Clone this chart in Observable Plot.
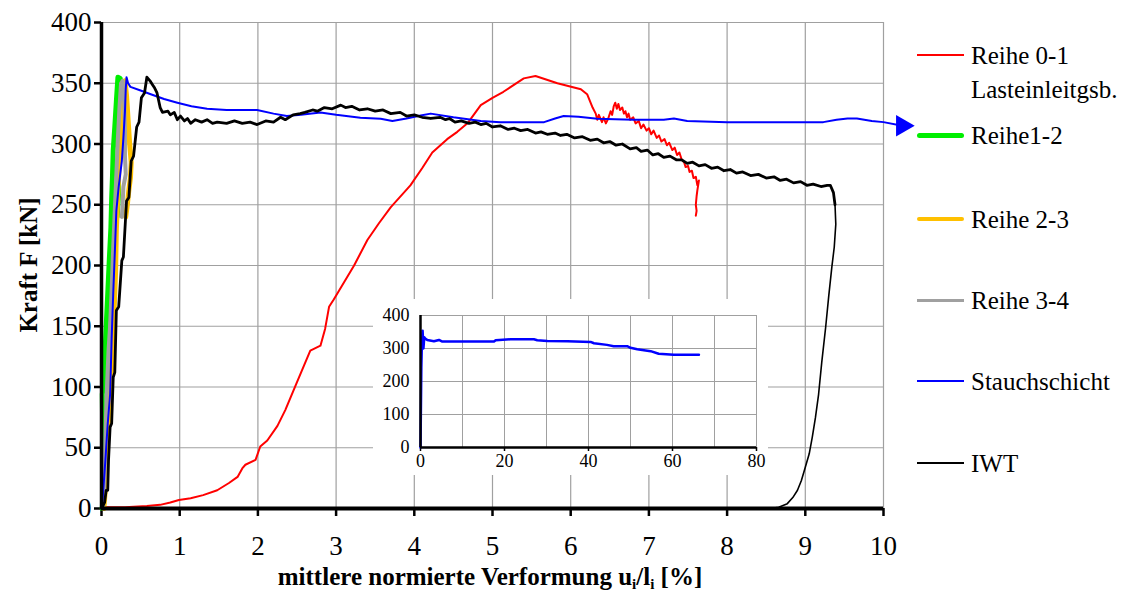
<!DOCTYPE html>
<html><head><meta charset="utf-8">
<script src="https://cdn.jsdelivr.net/npm/d3@7"></script>
<script src="https://cdn.jsdelivr.net/npm/@observablehq/plot@0.6"></script>
<style>
body{margin:0;background:#fff;}
#wrap{position:relative;width:1128px;height:596px;font-family:"Liberation Serif","Times New Roman",serif;color:#000;overflow:hidden;}
.abs{position:absolute;font-family:"Liberation Serif","Times New Roman",serif;}
.leg{position:absolute;left:971px;font-family:"Liberation Serif","Times New Roman",serif;font-size:25px;line-height:1;transform:translateY(-50%);white-space:nowrap;}
.sw{position:absolute;left:917px;width:47px;}
sub{font-size:60%;vertical-align:-0.25em;}
</style></head><body><div id="wrap"></div>
<script>
// ---- data ----
const xTicks = [0,1,2,3,4,5,6,7,8,9,10];
const yTicks = [0,50,100,150,200,250,300,350,400];
const insetXTicks = [0,20,40,60,80];
const insetXGrid = [0,10,20,30,40,50,60,70,80];
const insetYTicks = [0,100,200,300,400];
const seriesNames = ["Reihe 0-1", "Reihe1-2", "Reihe 2-3", "Reihe 3-4", "Stauchschicht", "IWT"];

const reihe01 = [[0.00,1],[0.30,1],[0.58,2],[0.75,3],[0.88,5],[0.99,7],[1.14,8.5],[1.30,11],[1.48,15],[1.63,21],[1.74,26],[1.80,33],[1.84,36],[1.97,40],[2.03,51],[2.12,56],[2.25,68],[2.35,81],[2.50,104],[2.67,130],[2.80,134],[2.86,148],[2.91,166],[2.97,172],[3.10,186],[3.23,200],[3.40,221],[3.55,235],[3.70,248],[3.95,266],[4.10,280],[4.23,293],[4.42,304],[4.55,310],[4.68,317],[4.85,332],[5.00,338],[5.14,343],[5.40,354],[5.55,356],[5.83,350],[6.13,345],[6.21,341],[6.28,330],[6.32,325],[6.34,320],[6.36,324],[6.40,318],[6.42,322],[6.45,317],[6.48,321],[6.51,327],[6.53,324],[6.55,331],[6.57,334],[6.59,329],[6.61,333],[6.63,328],[6.66,330],[6.68,325],[6.70,327],[6.72,322],[6.74,325],[6.76,320],[6.80,322],[6.83,317],[6.87,319],[6.90,313],[6.93,316],[6.97,311],[7.00,313],[7.03,308],[7.06,311],[7.10,305],[7.13,307],[7.16,302],[7.20,304],[7.23,299],[7.26,301],[7.30,295],[7.33,297],[7.36,291],[7.39,293],[7.42,287],[7.45,285],[7.47,281],[7.50,282],[7.52,277],[7.55,278],[7.57,272],[7.60,273],[7.62,266],[7.64,270],[7.62,262],[7.61,257],[7.60,250],[7.61,245],[7.60,241]];

const reihe12 = [[0.01,0],[0.03,20],[0.02,40],[0.01,94],[0.03,105],[0.04,122],[0.06,150],[0.08,177],[0.10,205],[0.12,231],[0.13,255],[0.14,273],[0.15,295],[0.17,314],[0.19,335],[0.21,355],[0.24,354],[0.23,330],[0.22,300],[0.21,275],[0.22,262],[0.21,250],[0.20,240]];

const reihe23 = [[0.03,0],[0.06,25],[0.07,50],[0.10,80],[0.12,100],[0.14,130],[0.16,160],[0.18,195],[0.19,230],[0.21,260],[0.23,290],[0.26,320],[0.28,345],[0.30,352],[0.32,340],[0.34,320],[0.36,300],[0.38,285],[0.37,272],[0.35,262],[0.33,250],[0.31,240]];

const reihe34 = [[0.02,0],[0.04,30],[0.05,60],[0.07,100],[0.09,130],[0.11,150],[0.13,180],[0.15,215],[0.17,245],[0.19,275],[0.21,305],[0.23,330],[0.25,350],[0.27,352],[0.29,335],[0.30,310],[0.30,290],[0.31,275],[0.28,265],[0.27,250],[0.26,240]];

const stauch = [[0,0],[0.01,4],[0.05,40],[0.08,70],[0.11,94],[0.13,140],[0.15,177],[0.17,210],[0.19,245],[0.22,265],[0.26,286],[0.28,305],[0.30,327],[0.31,345],[0.32,355],[0.34,350],[0.37,347],[0.50,344],[0.63,341],[0.80,337],[0.97,334],[1.15,331],[1.35,329],[1.60,328],[1.99,328],[2.20,325],[2.37,323],[2.55,324],[2.80,326],[3.00,324],[3.31,321.6],[3.57,320.7],[3.72,319],[3.90,321],[4.08,323.5],[4.21,325],[4.50,322],[4.85,319],[5.10,318],[5.36,318],[5.66,318],[5.80,321],[5.91,323],[6.10,322.5],[6.34,320.7],[6.80,320],[7.19,320],[7.32,321],[7.49,319],[8.00,318],[8.34,318],[8.68,318],[9.23,318],[9.40,320],[9.54,321],[9.66,321],[9.85,319],[10.00,318],[10.24,315]];

const iwtLoad = [[0,0],[0.04,5],[0.06,15],[0.08,15],[0.09,40],[0.11,67],[0.13,70],[0.15,108],[0.17,112],[0.19,163],[0.22,166],[0.26,204],[0.28,207],[0.32,253],[0.35,256],[0.38,286],[0.41,290],[0.45,314],[0.48,318],[0.51,338],[0.55,342],[0.58,355],[0.62,352],[0.65,349],[0.68,346],[0.71,342],[0.75,330],[0.78,326],[0.85,327],[0.88,324],[0.93,326],[0.97,320],[1.01,323],[1.06,319],[1.10,321],[1.14,317],[1.20,320],[1.28,318],[1.35,320],[1.42,317],[1.48,318],[1.60,317],[1.70,319],[1.80,317],[1.90,318],[1.99,316],[2.10,319],[2.20,318],[2.29,322],[2.35,320],[2.45,324],[2.54,325],[2.60,326],[2.70,328],[2.76,327],[2.85,330],[2.95,329],[3.06,332],[3.12,330],[3.20,331],[3.30,328],[3.40,329],[3.50,327],[3.60,328],[3.70,325],[3.82,326],[3.90,323],[4.00,324],[4.10,322],[4.21,321],[4.33,322],[4.40,320],[4.45,321],[4.52,318],[4.60,319],[4.70,317],[4.78,318],[4.85,316],[4.92,317],[5.00,314],[5.10,315],[5.20,312],[5.28,313],[5.36,311],[5.45,312],[5.55,309],[5.62,310],[5.70,308],[5.80,309],[5.87,307],[5.95,308],[6.05,305],[6.15,306],[6.25,303],[6.34,304],[6.42,301],[6.50,302],[6.58,299],[6.66,300],[6.76,296],[6.84,297],[6.90,294],[6.98,295],[7.05,291],[7.12,292],[7.19,289],[7.27,290],[7.35,287],[7.42,287],[7.49,284],[7.56,285],[7.64,282],[7.72,283],[7.80,280],[7.88,281],[7.96,278],[8.04,279],[8.12,276],[8.20,277],[8.30,274],[8.40,275],[8.50,272],[8.60,273],[8.68,270],[8.76,271],[8.85,268],[8.94,269],[9.02,266],[9.10,267],[9.20,265],[9.28,266],[9.32,266],[9.36,260],[9.38,250]];

const iwtUnload = [[9.38,250],[9.39,234],[9.37,215],[9.34,199],[9.30,175],[9.26,149],[9.21,120],[9.17,94],[9.13,75],[9.09,59],[9.05,45],[9.00,34],[8.95,23],[8.90,15],[8.84,9],[8.77,4],[8.66,1],[8.55,0]];

const stauchInset = [[0,0],[0.1,120],[0.2,243],[0.3,300],[0.5,354],[0.7,300],[0.9,334],[1.2,329],[1.6,326],[3.2,322],[4.4,326],[5.2,321],[13,321],[17.5,321],[17.9,325],[21.4,328],[27,328],[27.8,325],[30.2,323],[35,322],[40.5,320],[41.3,316],[44.4,311],[46,307],[49.2,307],[50,302],[51.6,298],[54.8,292],[56.7,284],[60.3,281],[66.3,281]];

// ---- chart ----
const X = d => d[0], Y = d => d[1];
const FONT = '"Liberation Serif","Times New Roman",serif';
const wrap = document.getElementById("wrap");

const main = Plot.plot({
  width: 1128, height: 596,
  marginLeft: 101, marginRight: 245, marginTop: 22, marginBottom: 88,
  x: {domain: [0, 10]},
  y: {domain: [0, 400]},
  style: {fontFamily: FONT, fontSize: "27px", background: "transparent", color: "#000", overflow: "visible"},
  marks: [
    Plot.gridX(xTicks, {stroke: "#a0a0a0", strokeOpacity: 1, strokeWidth: 1.2}),
    Plot.gridY(yTicks, {stroke: "#a0a0a0", strokeOpacity: 1, strokeWidth: 1.2}),
    Plot.axisX(xTicks, {tickSize: 8, tickPadding: 19, strokeWidth: 2.5, label: null, fontSize: 27}),
    Plot.axisY(yTicks, {tickSize: 7, tickPadding: 3, strokeWidth: 2.5, label: null, fontSize: 27}),
    Plot.line(reihe01, {x: X, y: Y, stroke: "#ff0000", strokeWidth: 2}),
    Plot.line(reihe12, {x: X, y: Y, stroke: "#00ee00", strokeWidth: 5}),
    Plot.line(reihe23, {x: X, y: Y, stroke: "#ffc000", strokeWidth: 5}),
    Plot.line(reihe34, {x: X, y: Y, stroke: "#a0a0a0", strokeWidth: 4}),
    Plot.line(stauch, {x: X, y: Y, stroke: "#0000ff", strokeWidth: 2}),
    Plot.dot(stauch.slice(-1), {x: X, y: Y, symbol: "triangle", rotate: 90, fill: "#0000ff", stroke: "none", r: 8}),
    Plot.line(iwtLoad, {x: X, y: Y, stroke: "#000", strokeWidth: 2.8}),
    Plot.line(iwtUnload, {x: X, y: Y, stroke: "#000", strokeWidth: 1.6}),
    Plot.ruleX([0], {strokeWidth: 3.5}),
    Plot.ruleY([0], {strokeWidth: 4})
  ]
});
main.style.position = "absolute";
main.style.left = "0px";
main.style.top = "0px";
wrap.appendChild(main);

const inset = Plot.plot({
  width: 395, height: 176,
  marginLeft: 47, marginRight: 12, marginTop: 16, marginBottom: 28,
  x: {domain: [0, 80]},
  y: {domain: [0, 400]},
  style: {fontFamily: FONT, fontSize: "18px", background: "#fff", color: "#000", overflow: "visible"},
  marks: [
    Plot.gridX(insetXGrid, {stroke: "#a0a0a0", strokeOpacity: 1}),
    Plot.gridY(insetYTicks, {stroke: "#a0a0a0", strokeOpacity: 1}),
    Plot.axisX(insetXTicks, {tickSize: 4, tickPadding: 3, strokeWidth: 1.5, label: null, fontSize: 18}),
    Plot.axisY(insetYTicks, {tickSize: 0, tickPadding: 11, label: null, fontSize: 18}),
    Plot.line(stauchInset, {x: X, y: Y, stroke: "#0000ff", strokeWidth: 2.5}),
    Plot.ruleX([0], {strokeWidth: 2.5}),
    Plot.ruleY([0], {strokeWidth: 2.5})
  ]
});
inset.style.position = "absolute";
inset.style.left = "373px";
inset.style.top = "299px";
wrap.appendChild(inset);

// axis titles
const yt = document.createElement("div");
yt.className = "abs";
yt.style.cssText += "left:28px;top:265px;transform:translate(-50%,-50%) rotate(-90deg);font-weight:bold;font-size:25px;white-space:nowrap;line-height:1;";
yt.textContent = "Kraft F [kN]";
wrap.appendChild(yt);

const xt = document.createElement("div");
xt.className = "abs";
xt.style.cssText += "left:490px;top:578px;transform:translate(-50%,-50%);font-weight:bold;font-size:25px;white-space:nowrap;line-height:1;";
xt.innerHTML = "mittlere normierte Verformung u<sub>i</sub>/l<sub>i</sub> [%]";
wrap.appendChild(xt);

// legend
const legend = [
  {name: seriesNames[0], color: "#ff0000", w: 2, y: 55, extra: "Lasteinleitgsb."},
  {name: seriesNames[1], color: "#00ee00", w: 5, y: 135},
  {name: seriesNames[2], color: "#ffc000", w: 4, y: 219},
  {name: seriesNames[3], color: "#a0a0a0", w: 3, y: 300},
  {name: seriesNames[4], color: "#0000ff", w: 2.5, y: 381},
  {name: seriesNames[5], color: "#000000", w: 2.5, y: 463}
];
legend.forEach(l => {
  const sw = document.createElement("div");
  sw.className = "sw";
  sw.style.top = (l.y - l.w / 2) + "px";
  sw.style.height = l.w + "px";
  sw.style.background = l.color;
  if (l.w >= 4) sw.style.borderRadius = (l.w / 2) + "px";
  wrap.appendChild(sw);
  const t = document.createElement("div");
  t.className = "leg";
  t.style.top = l.y + "px";
  t.textContent = l.name;
  wrap.appendChild(t);
  if (l.extra) {
    const t2 = document.createElement("div");
    t2.className = "leg";
    t2.style.top = (l.y + 34) + "px";
    t2.textContent = l.extra;
    wrap.appendChild(t2);
  }
});
</script></body></html>
